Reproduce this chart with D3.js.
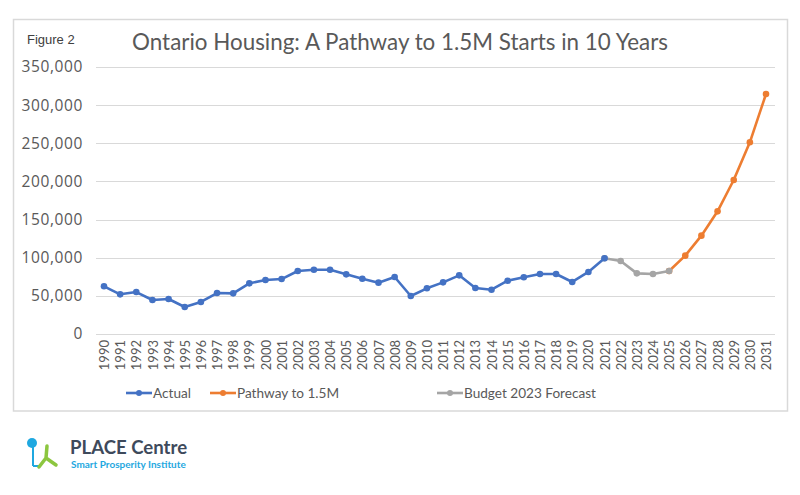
<!DOCTYPE html>
<html><head><meta charset="utf-8">
<script src="https://cdn.jsdelivr.net/npm/d3@7"></script>
<style>body{margin:0;background:#fff;}svg{display:block;}</style>
</head><body>
<svg id="c" width="800" height="495"></svg>
<script>
const years = d3.range(1990, 2032).map(String);
const actualYears = d3.range(1990, 2022).map(String);
const actualValues = [62500,52000,55000,44600,45900,35400,42000,53700,53300,66400,70800,72000,82600,84300,84300,78200,72500,67300,74700,49800,59900,67700,76900,60300,58100,69900,74300,78600,78600,68200,81300,99200];
const budgetYears = ["2021","2022","2023","2024","2025"];
const budgetValues = [99200,95700,79500,78600,82600];
const pathwayYears = ["2025","2026","2027","2028","2029","2030","2031"];
const pathwayValues = [82600,102700,128900,160800,201900,251300,314600];
const yTicks = [0,50000,100000,150000,200000,250000,300000,350000];
const seriesNames = ["Actual","Pathway to 1.5M","Budget 2023 Forecast"];
const colors = ["#4472c4","#ed7d31","#a5a5a5"];

const svg = d3.select("#c");
// outer border
svg.append("rect").attr("x",13.5).attr("y",19.5).attr("width",774).attr("height",391.5)
  .attr("fill","none").attr("stroke","#d9d9d9").attr("stroke-width",1.5);

svg.append("text").attr("x",27).attr("y",44).text("Figure 2")
  .attr("font-family","Liberation Sans, Arial").attr("font-size",13).attr("fill","#404040");
svg.append("text").attr("x",400).attr("y",50).attr("text-anchor","middle")
  .text("Ontario Housing: A Pathway to 1.5M Starts in 10 Years")
  .attr("font-family","Lato").attr("font-size",22.4).attr("fill","#595959");

const x = d3.scalePoint().domain(years).range([104, 766]);
const y = d3.scaleLinear().domain([0,350000]).range([334, 67]);

const g = svg.append("g");
// gridlines
g.selectAll("line.grid").data(yTicks).join("line")
  .attr("x1",96).attr("x2",775).attr("y1",d=>Math.round(y(d))+0.5).attr("y2",d=>Math.round(y(d))+0.5)
  .attr("stroke","#d9d9d9").attr("stroke-width",1);

// y axis labels
const yAxis = d3.axisLeft(y).tickValues(yTicks).tickFormat(d3.format(",")).tickSize(0).tickPadding(0);
const ya = svg.append("g").attr("transform","translate(83,0)").call(yAxis);
ya.select(".domain").remove();
ya.selectAll("text").attr("font-family","Open Sans").attr("font-size",15.5).attr("letter-spacing",0.6).attr("fill","#595959");

// x axis labels
const xAxis = d3.axisBottom(x).tickSize(0).tickPadding(0);
const xa = svg.append("g").attr("transform","translate(0,338)").call(xAxis);
xa.select(".domain").remove();
xa.selectAll("text").attr("font-family","Lato").attr("font-size",13).attr("fill","#595959")
  .attr("transform","rotate(-90)").attr("text-anchor","end").attr("dy","0.35em").attr("x",-2).attr("y",0);

function drawSeries(ys, vs, color){
  const data = ys.map((k,i)=>({k, v: vs[i]}));
  const line = d3.line().x(d=>x(d.k)).y(d=>y(d.v));
  g.append("path").datum(data).attr("d",line).attr("fill","none").attr("stroke",color)
    .attr("stroke-width",2.6).attr("stroke-linejoin","round").attr("stroke-linecap","round");
  g.selectAll(null).data(data).join("circle").attr("cx",d=>x(d.k)).attr("cy",d=>y(d.v)).attr("r",3.3).attr("fill",color);
}
drawSeries(pathwayYears, pathwayValues, colors[1]);
drawSeries(budgetYears, budgetValues, colors[2]);
drawSeries(actualYears, actualValues, colors[0]);

// legend
const legendX = [126, 210, 437];
const lg = svg.append("g");
seriesNames.forEach((n,i)=>{
  const gx = legendX[i], gy = 393;
  lg.append("line").attr("x1",gx).attr("x2",gx+26).attr("y1",gy).attr("y2",gy).attr("stroke",colors[i]).attr("stroke-width",2.6);
  lg.append("circle").attr("cx",gx+13).attr("cy",gy).attr("r",3).attr("fill",colors[i]);
  lg.append("text").attr("x",gx+27).attr("y",gy+5).text(n).attr("font-family","Lato").attr("font-size",13.6).attr("fill","#595959");
});

// logo
const logo = svg.append("g");
logo.append("line").attr("x1",33).attr("y1",445).attr("x2",33).attr("y2",466).attr("stroke","#1fa8e0").attr("stroke-width",2);
logo.append("line").attr("x1",33).attr("y1",466).attr("x2",40).attr("y2",466).attr("stroke","#1fa8e0").attr("stroke-width",2);
logo.append("circle").attr("cx",32).attr("cy",443).attr("r",5).attr("fill","#1fa8e0");
logo.append("path").attr("d","M47,446 L46,458 M46,458 L39,467 M46,458 L56,465").attr("stroke","#8cc63f").attr("stroke-width",3.5).attr("fill","none").attr("stroke-linecap","round");
logo.append("text").attr("x",70).attr("y",454).text("PLACE Centre").attr("font-family","Lato").attr("font-weight","bold").attr("font-size",18.6).attr("fill","#3e4a5b");
logo.append("text").attr("x",71).attr("y",468).text("Smart Prosperity Institute").attr("font-family","Lato").attr("font-weight","bold").attr("font-size",10).attr("fill","#1fa8e0");
</script>
</body></html>
